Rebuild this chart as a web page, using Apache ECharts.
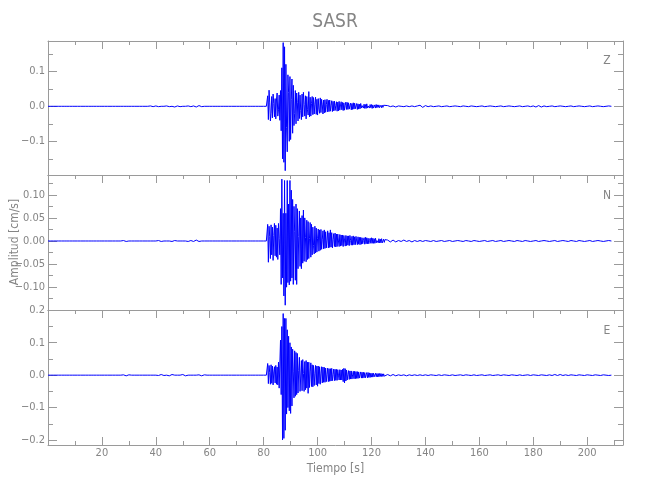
<!DOCTYPE html>
<html><head><meta charset="utf-8">
<script src="https://cdn.jsdelivr.net/npm/echarts@6/dist/echarts.min.js"></script>
<style>html,body{margin:0;padding:0;background:#fff}#c{width:650px;height:500px}</style>
</head><body><div id="c"></div>
<script>
// ---------- data (amplitudes in 1e-3 cm/s) ----------
const channelNames = ['Z', 'N', 'E'];
const xMajorTicks = [20, 40, 60, 80, 100, 120, 140, 160, 180, 200];
const xMinorTicks = [10, 30, 50, 70, 90, 110, 130, 150, 170, 190, 210];
const zMajorTicks = [-0.1, 0, 0.1];
const zMinorTicks = [-0.15, -0.05, 0.05, 0.15];
const nMajorTicks = [-0.1, -0.05, 0, 0.05, 0.1];
const nMinorTicks = [-0.125, -0.075, -0.025, 0.025, 0.075, 0.125];
const eMajorTicks = [-0.2, -0.1, 0, 0.1, 0.2];
const eMinorTicks = [-0.15, -0.05, 0.05, 0.15];

// sampling: pre-event t=0..80 every 1 s; main t=81..125 every 0.25 s; tail t=126..209 every 1 s
const preStart = 0, preStep = 1, mainStart = 81, mainStep = 0.25, tailStart = 126, tailStep = 1;

const zPre = [0,0,0,0,0,0,0,0,0,0, 0,0,0,0,0,0,0,0,0,0, 0,0,0,0,0,0,0,0,0,0,
  0,0,0,0,0,0,0,0,1,-1, 1,-1,0,0,1,-1,0,-2,1,-1, 0,0,1,-1,1,-2,2,-1,0,0,
  0,0,0,0,0,0,0,0,0,0, 0,0,0,0,0,0,0,0,0,0,0];
const zMain = [
  0,2,30,-38, 46,12,-42,-20, 28,-33,35,8, -30,22,-36,18, 38,-28,-10,32,
  -40,45,-70,110, -150,182,-160,170, -184,120,-60,-130, 90,40,-100,85, -95,20,78,-77,
  60,-55,-20,45, -50,38,10,-42, 40,-35,32,-12, -38,35,-30,40, 5,-28,30,-36,
  28,-10,-25,42, -30,26,-28,8, 28,-24,25,-22, 6,26,-23,20, -25,22,-8,-20,
  24,-18,20,4, -22,18,-19,19, -17,5,20,-16, 17,-15,18,-14, 3,16,-15,14,
  -13,15,-12,2, 13,-14,12,-13, 14,-11,4,13, -10,11,-12,10, -11,3,12,-9,
  11,-9,10,-8, 2,9,-10,8, -9,10,-8,9, -7,1,8,-9, 7,-8,6,-7,
  8,-5,2,7, -5,6,-6,5, -6,7,-5,1, 6,-5,5,-4, 5,-6,4,-5,
  0,4,-5,5, -4,4,-3,4, -4,1,3,-4, 3,-3,3,-2, 2];
const zTail = [2,-1,1,-2,1,0,-1,1,-1,1, -1,1,3,-3,2,-1,1,-1,0,1, -1,0,1,-1,0,1,0,-1,1,0,
  -1,1,0,-1,0,1,-1,0,1,0, -1,0,1,-1,0,1,0,-1,0,1, -1,0,1,-1,1,-2,2,-2,1,-1,
  0,1,-1,0,1,0,-1,0,1,-1, 0,1,0,-1,0,1,-1,0,1,0, -1,0,1,0];

const nPre = [0,0,0,0,0,0,0,0,0,0, 0,0,0,0,0,0,0,0,0,0, 0,0,0,0,0,0,0,0,1,-1,
  0,0,0,0,0,0,0,0,0,0, 0,1,-1,0,0,0,-1,1,0,0, 0,0,-1,1,-1,2,-1,0,0,0,
  0,0,0,0,0,0,0,0,0,0, 0,0,0,0,0,0,0,0,0,0,0];
const nMain = [
  0,2,36,-46, 32,10,-38,35, -30,30,-42,12, 38,-32,34,-35, 28,-40,38,5,
  -30,70,-94,134, -80,60,-119,131, -139,60,-100,131, -90,80,-95,131, -87,110,-80,90,
  -94,75,20,-85, 80,-94,70,-60, 10,65,-55,50, -60,55,-48,67, -44,50,8,-45,
  45,-40,42,-38, 5,40,-35,36, -30,30,-10,-28, 32,-26,28,-24, 6,26,-22,24,
  -20,25,-18,4, 22,-17,24,-16, 20,-15,2,22, -15,18,-14,24, -13,18,-15,3,
  16,-12,17,-13, 15,-12,15,0, -12,14,-11,13, -10,13,-12,12, 2,-11,12,-10,
  11,-9,11,-10, 12,1,-9,10, -9,11,-8,9, -8,10,0,-8, 9,-7,8,-8,
  8,-7,7,-6, 1,7,-7,8, -6,7,-6,6, -6,1,6,-5, 7,-5,6,-5,
  5,-5,6,-4, 1,5,-4,5, -4,4,-4,5, -4,0,4,-3, 3];
const nTail = [2,-2,2,-2,1,-1,2,-1,1,-2, 1,-1,1,-1,1,0,-1,1,-1,0, 1,-1,0,1,-1,0,1,0,-1,1,
  0,-1,1,0,-1,0,1,-1,0,1, -1,0,1,-1,0,1,0,-1,1,0, -1,1,0,-1,0,1,-1,0,1,0,
  -1,0,1,-1,0,1,0,-1,1,0, -1,1,0,-1,0,1,-1,0,1,0, -1,0,1,0];

const ePre = [0,0,0,0,0,0,0,0,0,0, 0,0,0,0,0,0,0,0,0,0, 0,0,0,0,0,0,0,0,1,-2,
  1,0,0,0,0,0,0,0,0,0, 0,-1,2,-1,0,-2,2,0,0,0, 2,-2,0,0,0,0,1,-2,1,0,
  0,0,0,0,0,0,0,0,0,0, 0,0,0,0,0,0,0,0,0,0,0];
const eMain = [
  0,2,36,-26, 30,8,-28,32, -25,28,-30,10, 26,-24,30,-28, 25,-30,40,-40,
  -35,108,-60,150, -200,190,-195,175, -170,175,-120,140, -100,120,-110,100, -118,87,-95,80,
  10,-70,75,-65, 70,-60,67,-55, 15,55,-50,-56, 45,-48,48,5, -50,42,-45,45,
  -40,40,-56,40, -38,10,38,-35, 32,-36,30,-32, 4,30,-30,28, -34,28,-26,26,
  -28,4,26,-24, 25,-22,24,-22, 22,-20,3,22, -20,20,-19,20, -18,21,-17,2,
  19,-17,18,-16, 18,-16,17,0, -15,17,-15,16, -15,18,-20,21, -24,20,-18,16,
  -15,2,14,-13, 13,-12,13,-12, 1,12,-11,12, -11,11,-10,11, -10,10,-9,1,
  10,-9,9,-9, 9,-8,8,-8, 1,8,-8,8, -7,7,-7,6, -6,6,-6,6,
  -5,1,6,-5, 5,-5,5,-5, 5,-4,5,-4, 4,-4,4,-3, 3];
const eTail = [2,-2,2,-2,1,-1,1,-2,1,-1, 1,-1,1,-1,1,-1,1,0,-1,1, -1,1,0,-1,1,-1,0,1,-1,1,
  0,-1,1,-1,0,1,-1,0,1,-1, 0,1,-1,1,0,-1,1,0,-1,1, -1,0,1,-1,1,0,-1,1,0,-1,
  1,-1,2,-1,2,-1,1,-1,1,0, -1,1,0,-1,1,0,-1,1,0,-1, 1,0,-1,0];

// ---------- build ----------
function buildTrace(pre, main, tail) {
  const pts = [];
  pre.forEach((v, i) => pts.push([preStart + i * preStep, v / 1000]));
  main.forEach((v, i) => pts.push([mainStart + i * mainStep, v / 1000]));
  tail.forEach((v, i) => pts.push([tailStart + i * tailStep, v / 1000]));
  return pts;
}
const traces = [buildTrace(zPre, zMain, zTail), buildTrace(nPre, nMain, nTail), buildTrace(ePre, eMain, eTail)];
const majors = [zMajorTicks, nMajorTicks, eMajorTicks];
const minors = [zMinorTicks, nMinorTicks, eMinorTicks];
const decimals = [1, 2, 1];

const FONT = "'DejaVu Sans Condensed', 'Liberation Sans Narrow', 'Liberation Sans', sans-serif";
const TXT = '#858585';
const LINE = '#9a9a9a';
const ls = { color: LINE, width: 1 };

const grids = [
  { left: 48, width: 575, top: 41, height: 134 },
  { left: 48, width: 575, top: 175, height: 135 },
  { left: 48, width: 575, top: 310, height: 135 }
];
const yRange = [[-0.1963, 0.1866], [-0.1494, 0.1429], [-0.2154, 0.201]];

const xAxes = [], yAxes = [], series = [];
grids.forEach((g, gi) => {
  const last = gi === 2;
  const xb = { type: 'value', gridIndex: gi, min: 0, max: 213.3, splitLine: { show: false } };
  xAxes.push(Object.assign({}, xb, {
    position: 'bottom', axisLine: { show: true, onZero: false, lineStyle: ls },
    axisTick: last ? { show: true, inside: true, length: 8, customValues: xMajorTicks, lineStyle: ls } : { show: false },
    axisLabel: last ? { show: true, customValues: xMajorTicks, color: TXT, fontSize: 11, fontFamily: FONT, margin: 3 } : { show: false },
    name: last ? 'Tiempo [s]' : '', nameLocation: 'middle', nameGap: 18,
    nameTextStyle: { color: TXT, fontSize: 12, fontFamily: FONT }
  }));
  xAxes.push(Object.assign({}, xb, {
    position: 'bottom', axisLine: { show: false, onZero: false },
    axisTick: last ? { show: true, inside: true, length: 4, customValues: xMinorTicks, lineStyle: ls } : { show: false },
    axisLabel: { show: false }
  }));
  xAxes.push(Object.assign({}, xb, {
    position: 'top', axisLine: { show: true, onZero: false, lineStyle: ls },
    axisTick: { show: true, inside: true, length: 8, customValues: xMajorTicks, lineStyle: ls },
    axisLabel: { show: false }
  }));
  xAxes.push(Object.assign({}, xb, {
    position: 'top', axisLine: { show: false, onZero: false },
    axisTick: { show: true, inside: true, length: 4, customValues: xMinorTicks, lineStyle: ls },
    axisLabel: { show: false }
  }));
  const yb = { type: 'value', gridIndex: gi, min: yRange[gi][0], max: yRange[gi][1], splitLine: { show: false } };
  const dec = decimals[gi];
  yAxes.push(Object.assign({}, yb, {
    position: 'left', axisLine: { show: true, onZero: false, lineStyle: ls },
    axisTick: { show: true, inside: true, length: 9, customValues: majors[gi], lineStyle: ls },
    axisLabel: { show: true, customValues: majors[gi], color: TXT, fontSize: 11, fontFamily: FONT, margin: 3,
      formatter: v => (Math.abs(v) < 1e-9 ? 0 : v).toFixed(dec).replace('-', '\u2212') }
  }));
  yAxes.push(Object.assign({}, yb, {
    position: 'left', axisLine: { show: false, onZero: false },
    axisTick: { show: true, inside: true, length: 5, customValues: minors[gi], lineStyle: ls },
    axisLabel: { show: false }
  }));
  yAxes.push(Object.assign({}, yb, {
    position: 'right', axisLine: { show: true, onZero: false, lineStyle: ls },
    axisTick: { show: true, inside: true, length: 9, customValues: majors[gi], lineStyle: ls },
    axisLabel: { show: false }
  }));
  yAxes.push(Object.assign({}, yb, {
    position: 'right', axisLine: { show: false, onZero: false },
    axisTick: { show: true, inside: true, length: 5, customValues: minors[gi], lineStyle: ls },
    axisLabel: { show: false }
  }));
  series.push({
    type: 'line', name: channelNames[gi], xAxisIndex: gi * 4, yAxisIndex: gi * 4,
    data: traces[gi], showSymbol: false, symbol: 'none', silent: true, animation: false,
    lineStyle: { color: '#0000ff', width: 1 }
  });
});

const chart = echarts.init(document.getElementById('c'), null, { renderer: 'canvas' });
chart.setOption({
  backgroundColor: '#ffffff',
  animation: false,
  grid: grids,
  xAxis: xAxes,
  yAxis: yAxes,
  series: series,
  graphic: [
    { type: 'text', x: 335, y: 22, style: { text: 'SASR', textAlign: 'center', textVerticalAlign: 'middle', fill: TXT, font: "19px " + FONT } },
    { type: 'text', x: 15, y: 242, rotation: Math.PI / 2, style: { text: 'Amplitud [cm/s]', textAlign: 'center', textVerticalAlign: 'middle', fill: TXT, font: "12px " + FONT } },
    { type: 'text', x: 607, y: 61, style: { text: channelNames[0], textAlign: 'center', textVerticalAlign: 'middle', fill: TXT, font: "12px " + FONT } },
    { type: 'text', x: 607, y: 196, style: { text: channelNames[1], textAlign: 'center', textVerticalAlign: 'middle', fill: TXT, font: "12px " + FONT } },
    { type: 'text', x: 607, y: 331, style: { text: channelNames[2], textAlign: 'center', textVerticalAlign: 'middle', fill: TXT, font: "12px " + FONT } }
  ]
});
</script>
</body></html>
